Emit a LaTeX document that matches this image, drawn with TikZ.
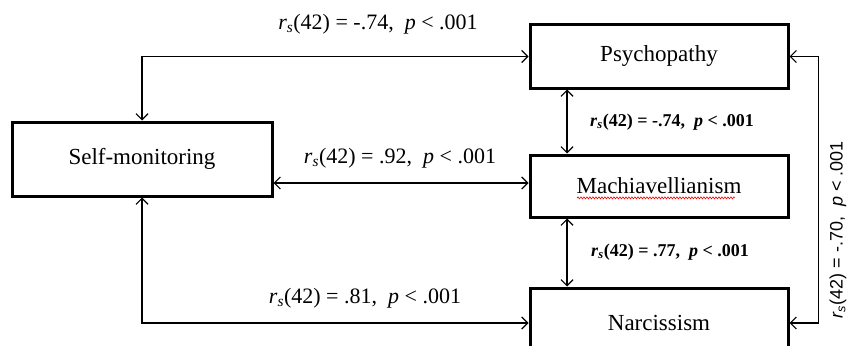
\documentclass[tikz,border=0pt]{standalone}
\usepackage{fontspec}
\setmainfont{Liberation Serif}
\newfontfamily\arialf{Liberation Sans}
\usetikzlibrary{arrows.meta,decorations.pathmorphing}
\begin{document}
\begin{tikzpicture}[x=1pt,y=-1pt,
  box/.style={draw,line width=3pt,inner sep=0pt,font=\fontsize{23}{27}\selectfont},
  conn/.style={line width=1.2pt,{Straight Barb[length=6pt,width=12pt]}-{Straight Barb[length=6pt,width=12pt]}},
  lab/.style={inner sep=0pt,font=\fontsize{22}{26}\selectfont},
  blab/.style={inner sep=0pt,font=\fontsize{18}{21}\selectfont\bfseries},
  slab/.style={inner sep=0pt,font=\fontsize{18}{22}\selectfont\arialf}]
\useasboundingbox (0,0) rectangle (850,345);
\node[box,minimum width=258pt,minimum height=63pt] (psy) at (659,56.5) {Psychopathy};
\node[box,minimum width=258pt,minimum height=62pt] (mach) at (659,186) {Machiavellianism};
\node[box,minimum width=258pt,minimum height=70pt] (narc) at (659,323) {Narcissism};
\node[box,minimum width=260pt,minimum height=74pt] (self) at (142,159) {Self-monitoring};
\draw[conn] (self.north) |- (psy.west);
\draw[conn] (self.east |- 0,183) -- (mach.west |- 0,183);
\draw[conn] (self.south) |- (narc.west);
\draw[conn] ([xshift=-92pt]psy.south) -- ([xshift=-92pt]mach.north);
\draw[conn] ([xshift=-92pt]mach.south) -- ([xshift=-92pt]narc.north);
\draw[conn] (psy.east) -- ++(29,0) |- (narc.east);
\draw[red,line width=0.6pt,decorate,decoration={snake,amplitude=1pt,segment length=3pt}]
  ([xshift=-82pt,yshift=-4pt]mach.base) -- ([xshift=76pt,yshift=-4pt]mach.base);
\node[lab] (l1) at (378,24) {\textit{r}\textsubscript{\textit{s}}(42) = -.74,\ \ \textit{p} < .001};
\node[lab] (l2) at (400,158) {\textit{r}\textsubscript{\textit{s}}(42) = .92,\ \ \textit{p} < .001};
\node[lab] (l3) at (365,298) {\textit{r}\textsubscript{\textit{s}}(42) = .81,\ \ \textit{p} < .001};
\node[blab] (l4) at (672,122) {\textit{r}\textsubscript{\textit{s}}(42) = -.74,\ \ \textit{p} < .001};
\node[blab] (l5) at (670,252) {\textit{r}\textsubscript{\textit{s}}(42) = .77,\ \ \textit{p} < .001};
\node[slab,rotate=90] (l6) at (838,230) {\textit{r}\textsubscript{\textit{s}}(42) = -.70,\ \ \textit{p} < .001};
\end{tikzpicture}
\end{document}
